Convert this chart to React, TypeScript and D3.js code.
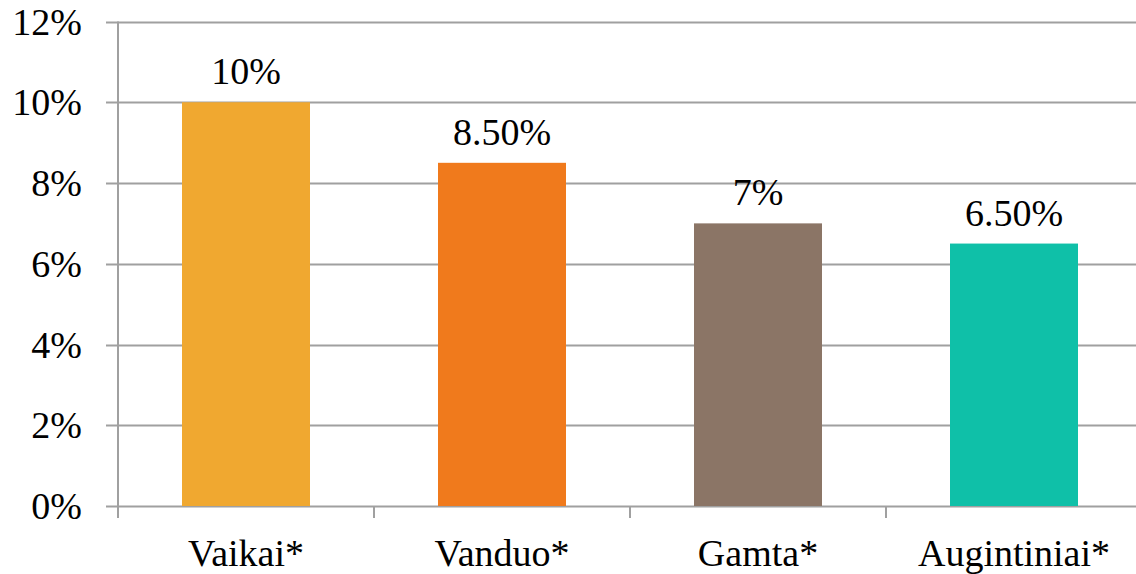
import React from "react";
import * as d3 from "d3";

const categories = ["Vaikai*", "Vanduo*", "Gamta*", "Augintiniai*"];
const values = [10, 8.5, 7, 6.5];
const valueLabels = ["10%", "8.50%", "7%", "6.50%"];
const colors = ["#F0A830", "#F07A1C", "#8B7566", "#0FC0A8"];
const yTicks = [0, 2, 4, 6, 8, 10, 12];

export default function App() {
  const W = 1136, H = 574;
  const left = 118, right = 1142, top = 21.5, bottom = 506;
  const x = d3.scaleBand<string>().domain(categories).range([left, right]).paddingInner(0.5).paddingOuter(0.25);
  const y = d3.scaleLinear().domain([0, 12]).range([bottom, top]);
  const font = "'Liberation Serif', 'Times New Roman', serif";
  const grid = "#A0A0A0";
  const fs = 38;
  const boundaries = d3.range(categories.length + 1).map(i => left + (i * (right - left)) / categories.length);
  return (
    <svg width={W} height={H} style={{ position: "absolute", left: 0, top: 0, background: "#fff" }} fontFamily={font}>
      {yTicks.map(t => (
        <g key={t}>
          <line x1={106} x2={W} y1={Math.round(y(t)) + 0.5} y2={Math.round(y(t)) + 0.5} stroke={grid} strokeWidth={2} />
          <text x={82} y={y(t) + 13} textAnchor="end" fontSize={fs} fill="#000">{t}%</text>
        </g>
      ))}
      <line x1={left} x2={left} y1={top} y2={bottom + 12} stroke={grid} strokeWidth={2} />
      {boundaries.map((b, i) => (
        <line key={i} x1={b} x2={b} y1={bottom} y2={bottom + 12} stroke={grid} strokeWidth={2} />
      ))}
      {categories.map((c, i) => (
        <g key={c}>
          <rect x={x(c)} y={y(values[i])} width={x.bandwidth()} height={bottom - y(values[i])} fill={colors[i]} />
          <text x={x(c)! + x.bandwidth() / 2} y={y(values[i]) - 18} textAnchor="middle" fontSize={fs} fill="#000">{valueLabels[i]}</text>
          <text x={x(c)! + x.bandwidth() / 2} y={566} textAnchor="middle" fontSize={fs} fill="#000">{c}</text>
        </g>
      ))}
    </svg>
  );
}
